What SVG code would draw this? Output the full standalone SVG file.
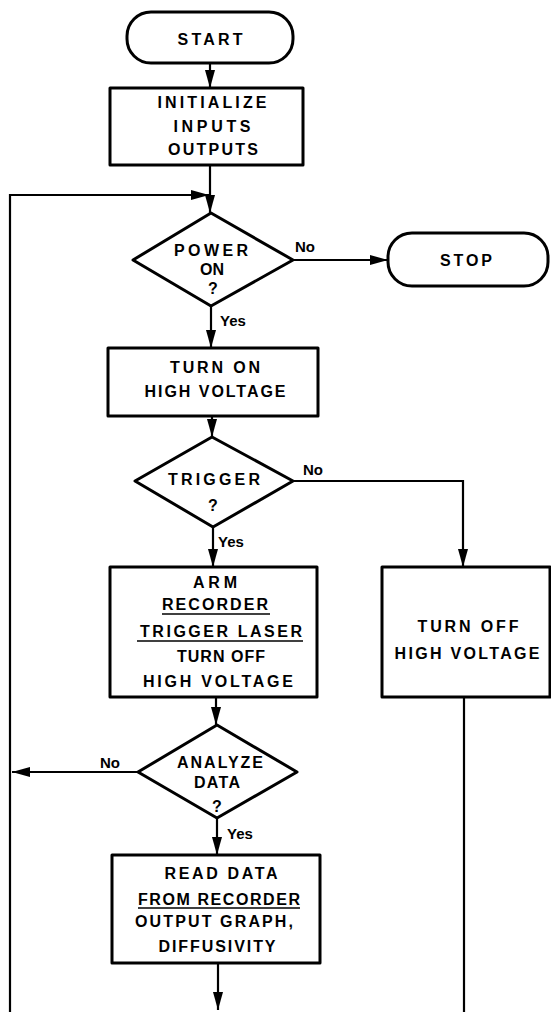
<svg xmlns="http://www.w3.org/2000/svg" width="551" height="1012" viewBox="0 0 551 1012">
<style>
.sh{fill:#fff;stroke:#000;stroke-width:3;stroke-linejoin:round}
.cn{fill:none;stroke:#000;stroke-width:2.2}
.t{font-family:"Liberation Sans",Arial,sans-serif;font-weight:bold;font-size:16px;fill:#000;text-anchor:middle}
.s{font-family:"Liberation Sans",Arial,sans-serif;font-weight:bold;font-size:15px;fill:#000}
.ul{stroke:#000;stroke-width:1.6}
</style>
<defs>
<marker id="ah" viewBox="0 0 18 10" refX="18" refY="5" markerWidth="18" markerHeight="10" markerUnits="userSpaceOnUse" orient="auto">
<path d="M0,0 L18,5 L0,10 z" fill="#000"/>
</marker>
</defs>
<rect width="551" height="1012" fill="#fff"/>
<g id="connectors">
<path class="cn" d="M210,63 V88" marker-end="url(#ah)"/>
<path class="cn" d="M210,165 V213" marker-end="url(#ah)"/>
<path class="cn" d="M10,1012 V195 H209" marker-end="url(#ah)"/>
<path class="cn" d="M293,260 H388" marker-end="url(#ah)"/>
<path class="cn" d="M211,306 V348" marker-end="url(#ah)"/>
<path class="cn" d="M212,416 V437" marker-end="url(#ah)"/>
<path class="cn" d="M293,481 H463 V567" marker-end="url(#ah)"/>
<path class="cn" d="M213,527 V567" marker-end="url(#ah)"/>
<path class="cn" d="M216,697 V725" marker-end="url(#ah)"/>
<path class="cn" d="M138,772 H12" marker-end="url(#ah)"/>
<path class="cn" d="M217,818 V855" marker-end="url(#ah)"/>
<path class="cn" d="M218,963 V1010" marker-end="url(#ah)"/>
<path class="cn" d="M464,697 V1012"/>
<text class="s" x="295" y="252">No</text>
<text class="s" x="220" y="326">Yes</text>
<text class="s" x="303" y="475">No</text>
<text class="s" x="218" y="547">Yes</text>
<text class="s" x="100" y="768">No</text>
<text class="s" x="227" y="839">Yes</text>
</g>
<g id="start">
<rect class="sh" x="127" y="12" width="166" height="51" rx="24"/>
<text class="t" x="210" y="45" textLength="65">START</text>
</g>
<g id="initialize">
<rect class="sh" x="110" y="88" width="193" height="77"/>
<text class="t" x="212" y="108" textLength="109">INITIALIZE</text>
<text class="t" x="212" y="132" textLength="77">INPUTS</text>
<text class="t" x="213" y="155" textLength="90">OUTPUTS</text>
</g>
<g id="power-on">
<polygon class="sh" points="211,213 293,260 211,306 133,260"/>
<text class="t" x="211" y="256" textLength="74">POWER</text>
<text class="t" x="212" y="275">ON</text>
<text class="t" x="213" y="294">?</text>
</g>
<g id="stop">
<rect class="sh" x="388" y="233" width="160" height="53" rx="24"/>
<text class="t" x="466" y="266" textLength="52">STOP</text>
</g>
<g id="turn-on">
<rect class="sh" x="108" y="348" width="210" height="68"/>
<text class="t" x="215" y="373" textLength="90">TURN ON</text>
<text class="t" x="215" y="397" textLength="141">HIGH VOLTAGE</text>
</g>
<g id="trigger">
<polygon class="sh" points="212,437 293,481 213,527 135,481"/>
<text class="t" x="214" y="485" textLength="92">TRIGGER</text>
<text class="t" x="213" y="511">?</text>
</g>
<g id="arm">
<rect class="sh" x="110" y="567" width="207" height="130"/>
<text class="t" x="215" y="588" textLength="44">ARM</text>
<text class="t" x="215" y="610" textLength="106">RECORDER</text>
<line class="ul" x1="162" y1="614" x2="270" y2="614"/>
<text class="t" x="221" y="637" textLength="162">TRIGGER LASER</text>
<line class="ul" x1="137" y1="641" x2="303" y2="641"/>
<text class="t" x="221" y="662" textLength="88">TURN OFF</text>
<text class="t" x="218" y="687" textLength="150">HIGH VOLTAGE</text>
</g>
<g id="turn-off">
<rect class="sh" x="382" y="567" width="168" height="130"/>
<text class="t" x="468" y="632" textLength="101">TURN OFF</text>
<text class="t" x="467" y="659" textLength="145">HIGH VOLTAGE</text>
</g>
<g id="analyze">
<polygon class="sh" points="217,725 297,772 217,818 138,772"/>
<text class="t" x="220" y="768" textLength="86">ANALYZE</text>
<text class="t" x="217" y="788" textLength="46">DATA</text>
<text class="t" x="217" y="812">?</text>
</g>
<g id="read-data">
<rect class="sh" x="112" y="855" width="208" height="108"/>
<text class="t" x="221" y="879" textLength="113">READ DATA</text>
<text class="t" x="219" y="905" textLength="162">FROM RECORDER</text>
<line class="ul" x1="138" y1="908" x2="300" y2="908"/>
<text class="t" x="214" y="927" textLength="158">OUTPUT GRAPH,</text>
<text class="t" x="217" y="952" textLength="117">DIFFUSIVITY</text>
</g>
</svg>
